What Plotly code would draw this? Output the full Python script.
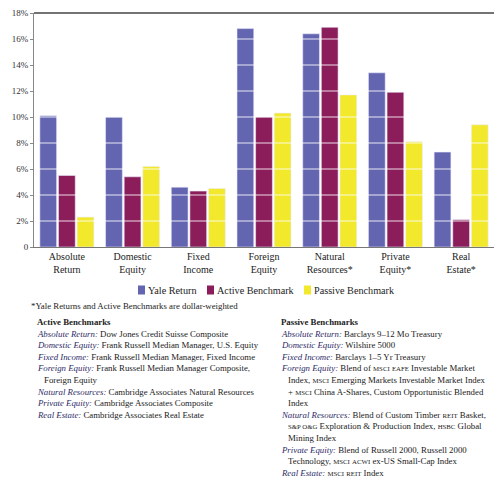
import plotly.graph_objects as go

categories = ["Absolute<br>Return", "Domestic<br>Equity", "Fixed<br>Income", "Foreign<br>Equity",
              "Natural<br>Resources*", "Private<br>Equity*", "Real<br>Estate*"]
yale_return = [10.1, 10.0, 4.6, 16.8, 16.4, 13.4, 7.3]
active_benchmark = [5.5, 5.4, 4.3, 10.0, 16.9, 11.9, 2.1]
passive_benchmark = [2.3, 6.2, 4.5, 10.3, 11.7, 8.1, 9.4]
series_names = ["Yale Return", "Active Benchmark", "Passive Benchmark"]
tick_values = [0, 2, 4, 6, 8, 10, 12, 14, 16, 18]
tick_labels = ["0", "2%", "4%", "6%", "8%", "10%", "12%", "14%", "16%", "18%"]

colors = ["#6365b1", "#8a1d5a", "#f2e82c"]
FONT = "Liberation Serif"
W, H = 494, 480
L, R, T, B = 34, 0, 13, 233
PW, PH = W - L - R, H - T - B

fig = go.Figure()
for name, vals, c in zip(series_names, [yale_return, active_benchmark, passive_benchmark], colors):
    fig.add_trace(go.Bar(x=categories, y=vals, name=name, marker_color=c,
                         marker_line=dict(color="rgba(235,235,255,0.7)", width=0.8)))

# white gridlines drawn over the bars
for v in tick_values[1:-1]:
    fig.add_shape(type="line", xref="paper", yref="y", x0=0, x1=1, y0=v, y1=v,
                  line=dict(color="rgba(255,255,255,0.85)", width=1), layer="above")
# dark top frame line
fig.add_shape(type="line", xref="paper", yref="paper", x0=0, x1=1, y0=1, y1=1,
              line=dict(color="#444", width=1.6), layer="above")

def px(x):
    return (x - L) / PW

def py(y):
    return (H - B - y) / PH

def sc(s):
    return '<span style="font-size:6.8px">' + s + '</span>'

TXT = "#222"
LAB = "#2e2a66"
FS = 8.8

def ann(text, x, y, size=FS, color=TXT):
    fig.add_annotation(text=text, x=px(x), y=py(y), xref="paper", yref="paper",
                       xanchor="left", yanchor="middle", showarrow=False,
                       font=dict(family=FONT, size=size, color=color))

# legend (swatches + labels)
legend_x = [138, 207, 304]
for name, c, x in zip(series_names, colors, legend_x):
    fig.add_shape(type="rect", xref="paper", yref="paper", x0=px(x), x1=px(x + 7),
                  y0=py(294.5), y1=py(285.5), fillcolor=c, line=dict(width=0))
    ann(name, x + 8, 290, size=10.2)

ann("*Yale Returns and Active Benchmarks are dollar-weighted", 29, 306)

step = 11.6
active_lines = [
    ("<b>Active Benchmarks</b>", 35),
    ("<i style='color:%s'>Absolute Return:</i> Dow Jones Credit Suisse Composite" % LAB, 35),
    ("<i style='color:%s'>Domestic Equity:</i> Frank Russell Median Manager, U.S. Equity" % LAB, 35),
    ("<i style='color:%s'>Fixed Income:</i> Frank Russell Median Manager, Fixed Income" % LAB, 35),
    ("<i style='color:%s'>Foreign Equity:</i> Frank Russell Median Manager Composite," % LAB, 35),
    ("Foreign Equity", 42),
    ("<i style='color:%s'>Natural Resources:</i> Cambridge Associates Natural Resources" % LAB, 35),
    ("<i style='color:%s'>Private Equity:</i> Cambridge Associates Composite" % LAB, 35),
    ("<i style='color:%s'>Real Estate:</i> Cambridge Associates Real Estate" % LAB, 35),
]
for i, (t, x) in enumerate(active_lines):
    ann(t, x, 322 + i * step)

passive_lines = [
    ("<b>Passive Benchmarks</b>", 279),
    ("<i style='color:%s'>Absolute Return:</i> Barclays 9–12 Mo Treasury" % LAB, 279),
    ("<i style='color:%s'>Domestic Equity:</i> Wilshire 5000" % LAB, 279),
    ("<i style='color:%s'>Fixed Income:</i> Barclays 1–5 Yr Treasury" % LAB, 279),
    ("<i style='color:%s'>Foreign Equity:</i> Blend of %s %s Investable Market" % (LAB, sc("MSCI"), sc("EAFE")), 279),
    ("Index, %s Emerging Markets Investable Market Index" % sc("MSCI"), 286),
    ("+ %s China A-Shares, Custom Opportunistic Blended" % sc("MSCI"), 286),
    ("Index", 286),
    ("<i style='color:%s'>Natural Resources:</i> Blend of Custom Timber %s Basket," % (LAB, sc("REIT")), 279),
    ("%s Exploration &amp; Production Index, %s Global" % (sc("S&amp;P O&amp;G"), sc("HSBC")), 286),
    ("Mining Index", 286),
    ("<i style='color:%s'>Private Equity:</i> Blend of Russell 2000, Russell 2000" % LAB, 279),
    ("Technology, %s %s ex-US Small-Cap Index" % (sc("MSCI"), sc("ACWI")), 286),
    ("<i style='color:%s'>Real Estate:</i> %s %s Index" % (LAB, sc("MSCI"), sc("REIT")), 279),
]
for i, (t, x) in enumerate(passive_lines):
    ann(t, x, 322 + i * step)

fig.update_layout(
    width=W, height=H,
    margin=dict(l=L, r=R, t=T, b=B, pad=0),
    paper_bgcolor="white", plot_bgcolor="white",
    barmode="group", bargap=0.15, bargroupgap=0.1,
    font=dict(family=FONT, color=TXT),
    showlegend=False,
)
fig.update_xaxes(showline=True, linecolor="#777", linewidth=1.2, mirror=False,
                 showgrid=False, ticks="", tickfont=dict(family=FONT, size=10, color=TXT))
fig.update_yaxes(range=[0, 18], tickvals=tick_values, ticktext=tick_labels,
                 showline=True, linecolor="#888", linewidth=1, showgrid=False, zeroline=False,
                 ticks="outside", ticklen=3, tickcolor="#888",
                 tickfont=dict(family=FONT, size=9, color="#333"))

fig.write_html("out.html")
